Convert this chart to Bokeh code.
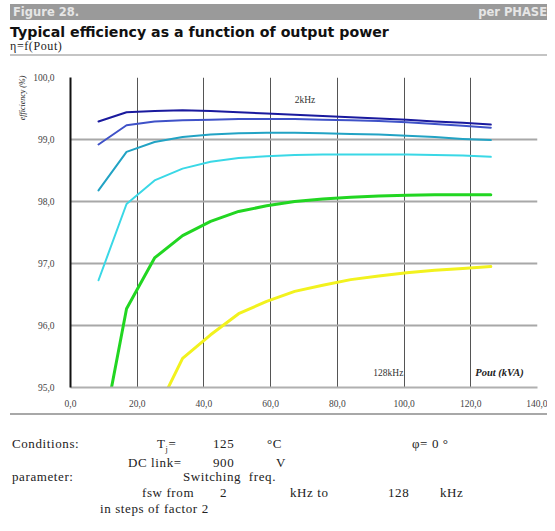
from bokeh.plotting import figure
from bokeh.models import Div, Label, FixedTicker, Range1d
from bokeh.layouts import column, row
from bokeh.embed import file_html
from bokeh.resources import INLINE

# ---- data ----
pout = [8.4, 16.8, 25.2, 33.6, 42.0, 50.4, 58.8, 67.2, 75.6, 84.0, 92.4, 100.8, 109.2, 117.6, 126.0]
eta_2k = [99.29, 99.44, 99.46, 99.47, 99.46, 99.44, 99.42, 99.40, 99.38, 99.36, 99.34, 99.32, 99.29, 99.27, 99.24]
eta_4k = [98.92, 99.23, 99.29, 99.31, 99.32, 99.33, 99.33, 99.33, 99.32, 99.31, 99.30, 99.28, 99.25, 99.22, 99.19]
eta_8k = [98.18, 98.80, 98.96, 99.04, 99.08, 99.10, 99.11, 99.11, 99.10, 99.09, 99.08, 99.06, 99.04, 99.01, 98.99]
eta_16k = [96.73, 97.96, 98.34, 98.53, 98.64, 98.70, 98.73, 98.75, 98.76, 98.76, 98.76, 98.76, 98.75, 98.74, 98.72]
eta_32k = [93.90, 96.27, 97.09, 97.45, 97.68, 97.84, 97.93, 98.00, 98.04, 98.07, 98.09, 98.10, 98.11, 98.11, 98.11]
eta_64k = [91.00, 93.00, 94.55, 95.47, 95.85, 96.19, 96.39, 96.55, 96.65, 96.74, 96.80, 96.85, 96.89, 96.92, 96.95]

series = [eta_2k, eta_4k, eta_8k, eta_16k, eta_32k, eta_64k]
series_names = ["2 kHz", "4 kHz", "8 kHz", "16 kHz", "32 kHz", "64 kHz"]
series_colors = ["#1a1a9e", "#3f52c8", "#22a3c4", "#3ad8e6", "#22d622", "#f2f21e"]
series_widths = [2, 2, 2, 2, 3, 3]

x_ticks = [0, 20, 40, 60, 80, 100, 120, 140]
x_tick_labels = ["0,0", "20,0", "40,0", "60,0", "80,0", "100,0", "120,0", "140,0"]
y_ticks = [95, 96, 97, 98, 99, 100]
y_tick_labels = ["95,0", "96,0", "97,0", "98,0", "99,0", "100,0"]

SERIF = "Liberation Serif"
SANS = "DejaVu Sans"

# ---- header ----
header_html = f"""
<div style="position:relative;width:547px;height:58px;">
  <div style="position:absolute;left:10px;top:4px;width:537px;height:16px;background:#9a9a9a;"></div>
  <span style="position:absolute;left:13px;top:4px;color:#e6e6e6;font-family:'{SANS}';font-weight:bold;font-size:11.5px;">Figure 28.</span>
  <span style="position:absolute;right:0px;top:4px;color:#e6e6e6;font-family:'{SANS}';font-weight:bold;font-size:11.5px;">per PHASE</span>
  <span style="position:absolute;left:10px;top:22px;color:#111;font-family:'{SANS}';font-weight:bold;font-size:14.2px;">Typical efficiency as a function of output power</span>
  <span style="position:absolute;left:10px;top:38px;color:#222;font-family:'{SERIF}';font-size:12px;letter-spacing:0.6px;">&eta;=f(Pout)</span>
  <div style="position:absolute;left:10px;top:54px;width:537px;height:2px;background:#c4c4c4;"></div>
</div>
"""
header = Div(text=header_html, width=547, height=58, margin=(0, 0, 0, 0))

# ---- y axis title (left strip) ----
ylab_html = f"""
<div style="position:relative;width:30px;height:355px;">
  <span style="position:absolute;left:23px;top:40px;white-space:nowrap;font-family:'{SERIF}';
   font-style:italic;font-size:8px;color:#222;transform:translate(-50%,-50%) rotate(-90deg);">efficiency (%)</span>
</div>
"""
ylab = Div(text=ylab_html, width=30, height=355, margin=(0, 0, 0, 0))

# ---- plot ----
p = figure(width=517, height=355, output_backend="svg", toolbar_location=None,
           x_range=Range1d(0, 140), y_range=Range1d(95, 100),
           min_border_left=40, min_border_right=10, min_border_top=19, min_border_bottom=26)
p.outline_line_color = None
p.background_fill_color = "white"
p.border_fill_color = "white"

for ys, name, col, w in zip(series, series_names, series_colors, series_widths):
    p.line(pout, ys, line_color=col, line_width=w, line_join="round", line_cap="round")

p.xaxis.ticker = FixedTicker(ticks=x_ticks)
p.yaxis.ticker = FixedTicker(ticks=y_ticks)
p.xaxis.major_label_overrides = dict(zip(x_ticks, x_tick_labels))
p.yaxis.major_label_overrides = dict(zip(y_ticks, y_tick_labels))
for ax in (p.xaxis[0], p.yaxis[0]):
    ax.major_label_text_font = SERIF
    ax.major_label_text_font_size = "9.5px"
    ax.major_label_text_color = "#444444"
    ax.major_tick_line_color = None
    ax.minor_tick_line_color = None
p.xaxis.axis_line_color = "#b0b0b0"
p.xaxis.axis_line_width = 2
p.xaxis.major_label_standoff = 6
p.yaxis.axis_line_color = "#111111"
p.yaxis.axis_line_width = 2
p.yaxis.major_label_standoff = 10

p.xgrid.grid_line_color = "#555555"
p.xgrid.grid_line_width = 1
p.ygrid.grid_line_color = "#a8a8a8"
p.ygrid.grid_line_width = 2

p.add_layout(Label(x=70.3, y=99.63, text="2kHz", text_font=SERIF, text_font_size="9.5px",
                   text_color="#333333", text_align="center", text_baseline="middle"))
p.add_layout(Label(x=95.3, y=95.24, text="128kHz", text_font=SERIF, text_font_size="9.5px",
                   text_color="#333333", text_align="center", text_baseline="middle"))
p.add_layout(Label(x=128.6, y=95.24, text="Pout (kVA)", text_font=SERIF, text_font_size="10.5px",
                   text_font_style="bold italic", text_color="#222222", text_align="center",
                   text_baseline="middle"))

# ---- footer ----
def sp(left, top, txt):
    return (f'<span style="position:absolute;left:{left}px;top:{top}px;white-space:nowrap;">{txt}</span>')

footer_items = [
    sp(12, 22, "Conditions:"), sp(157, 22, "T<sub style='font-size:8px'>j</sub>="), sp(213, 22, "125"),
    sp(267, 22, "&deg;C"), sp(412, 22, "&phi;= 0 &deg;"),
    sp(128, 41, "DC link="), sp(213, 41, "900"), sp(276, 41, "V"),
    sp(12, 55, "parameter:"), sp(183, 55, "Switching&nbsp; freq."),
    sp(142, 71, "fsw from"), sp(220, 71, "2"), sp(290, 71, "kHz to"), sp(388, 71, "128"), sp(440, 71, "kHz"),
    sp(100, 87, "in steps of factor 2"),
]
footer_html = (f'<div style="position:relative;width:547px;height:110px;font-family:\'{SERIF}\';'
               f'font-size:13px;letter-spacing:0.6px;color:#222;">'
               f'<div style="position:absolute;left:10px;top:0px;width:537px;height:2px;background:#a8a8a8;"></div>'
               + "".join(footer_items) + "</div>")
footer = Div(text=footer_html, width=547, height=110, margin=(0, 0, 0, 0))

layout = column(header, row(ylab, p, spacing=0), footer, spacing=0)
open("out.html", "w").write(file_html(layout, INLINE))
